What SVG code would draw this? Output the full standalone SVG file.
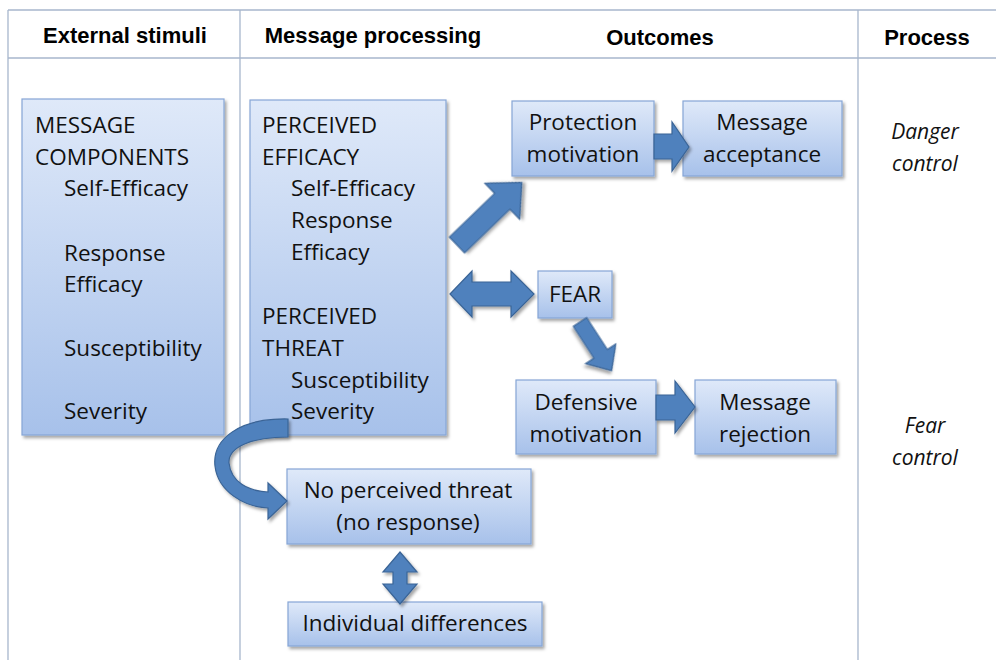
<svg xmlns="http://www.w3.org/2000/svg" width="996" height="660" viewBox="0 0 996 660">
<defs>
<linearGradient id="boxg" x1="0" y1="0" x2="0" y2="1">
<stop offset="0" stop-color="#dfe9f9"/>
<stop offset="1" stop-color="#a7c1ea"/>
</linearGradient>
<filter id="sh" x="-10%" y="-10%" width="130%" height="130%">
<feDropShadow dx="2" dy="2.5" stdDeviation="1.8" flood-color="#000" flood-opacity="0.35"/>
</filter>
</defs>
<style>
.grid{stroke:#a7b6cc;stroke-width:1.3;fill:none}
.hd{font-family:"Liberation Sans",Arial,sans-serif;font-weight:bold;font-size:22px;fill:#000}
.box{fill:url(#boxg);stroke:#86a6d6;stroke-width:1.2;filter:url(#sh)}
.t{font-family:"Open Sans","Liberation Sans",sans-serif;font-size:22.5px;fill:#111}
.c{text-anchor:middle}
.it{font-family:"Open Sans","Liberation Sans",sans-serif;font-size:21px;font-style:italic;fill:#111;text-anchor:middle}
.ar{fill:#4f81bd;stroke:#3a6496;stroke-width:1.2;filter:url(#sh)}
</style>
<rect width="996" height="660" fill="#fff"/>
<g id="table">
<line class="grid" x1="8" y1="10" x2="996" y2="10"/>
<line class="grid" x1="8" y1="58" x2="996" y2="58"/>
<line class="grid" x1="8" y1="10" x2="8" y2="660"/>
<line class="grid" x1="240" y1="10" x2="240" y2="660"/>
<line class="grid" x1="858" y1="10" x2="858" y2="660"/>
<text class="hd c" x="125" y="43">External stimuli</text>
<text class="hd c" x="373" y="43">Message processing</text>
<text class="hd c" x="660" y="45">Outcomes</text>
<text class="hd c" x="927" y="45">Process</text>
<text class="it" x="925" y="139">Danger</text>
<text class="it" x="925" y="171">control</text>
<text class="it" x="925" y="433">Fear</text>
<text class="it" x="925" y="465">control</text>
</g>
<g id="message-components">
<rect class="box" x="22" y="99" width="202" height="336"/>
<text class="t" x="35" y="133">MESSAGE</text>
<text class="t" x="35" y="165">COMPONENTS</text>
<text class="t" x="64" y="196">Self-Efficacy</text>
<text class="t" x="64" y="261">Response</text>
<text class="t" x="64" y="292">Efficacy</text>
<text class="t" x="64" y="356">Susceptibility</text>
<text class="t" x="64" y="419">Severity</text>
</g>
<g id="perceived">
<rect class="box" x="250" y="100" width="196" height="335"/>
<text class="t" x="262" y="133">PERCEIVED</text>
<text class="t" x="262" y="165">EFFICACY</text>
<text class="t" x="291" y="196">Self-Efficacy</text>
<text class="t" x="291" y="228">Response</text>
<text class="t" x="291" y="260">Efficacy</text>
<text class="t" x="262" y="324">PERCEIVED</text>
<text class="t" x="262" y="356">THREAT</text>
<text class="t" x="291" y="388">Susceptibility</text>
<text class="t" x="291" y="419">Severity</text>
</g>
<g id="protection-motivation">
<rect class="box" x="512" y="101" width="142" height="75"/>
<text class="t c" x="583" y="130">Protection</text>
<text class="t c" x="583" y="162">motivation</text>
</g>
<g id="message-acceptance">
<rect class="box" x="683" y="101" width="159" height="75"/>
<text class="t c" x="762" y="130">Message</text>
<text class="t c" x="762" y="162">acceptance</text>
</g>
<g id="fear">
<rect class="box" x="538" y="271" width="74" height="47"/>
<text class="t c" x="575" y="302">FEAR</text>
</g>
<g id="defensive-motivation">
<rect class="box" x="516" y="380" width="140" height="74"/>
<text class="t c" x="586" y="410">Defensive</text>
<text class="t c" x="586" y="442">motivation</text>
</g>
<g id="message-rejection">
<rect class="box" x="695" y="380" width="141" height="74"/>
<text class="t c" x="765" y="410">Message</text>
<text class="t c" x="765" y="442">rejection</text>
</g>
<g id="no-perceived-threat">
<rect class="box" x="287" y="469" width="244" height="75"/>
<text class="t c" x="408" y="498">No perceived threat</text>
<text class="t c" x="408" y="530">(no response)</text>
</g>
<g id="individual-differences">
<rect class="box" x="288" y="602" width="254" height="44"/>
<text class="t c" x="415" y="631">Individual differences</text>
</g>
<g id="connectors">
<path class="ar" d="M288 419 C238 418 212 440 215 466 C218 492 245 507 268 508 L268 519 L287 501 L268 483 L268 492 C248 491 231 482 229 463 C228 447 252 437 288 437 Z"/>
<polygon class="ar" transform="translate(457,245) rotate(-44)" points="0,-11 63,-11 63,-25 90,0 63,25 63,11 0,11"/>
<polygon class="ar" points="450,294 472,271 472,282 511,282 511,271 534,294 511,317 511,306 472,306 472,317"/>
<polygon class="ar" transform="translate(580,322) rotate(57)" points="0,-8 38,-8 38,-18 58,0 38,18 38,8 0,8"/>
<polygon class="ar" points="654,134 672,134 672,122 689,147 672,171 672,159 654,159"/>
<polygon class="ar" points="656,395 675,395 675,381 695,407 675,433 675,420 656,420"/>
<polygon class="ar" points="400,552 417,572 407,572 407,584 417,584 400,604 383,584 393,584 393,572 383,572"/>
</g>
</svg>
